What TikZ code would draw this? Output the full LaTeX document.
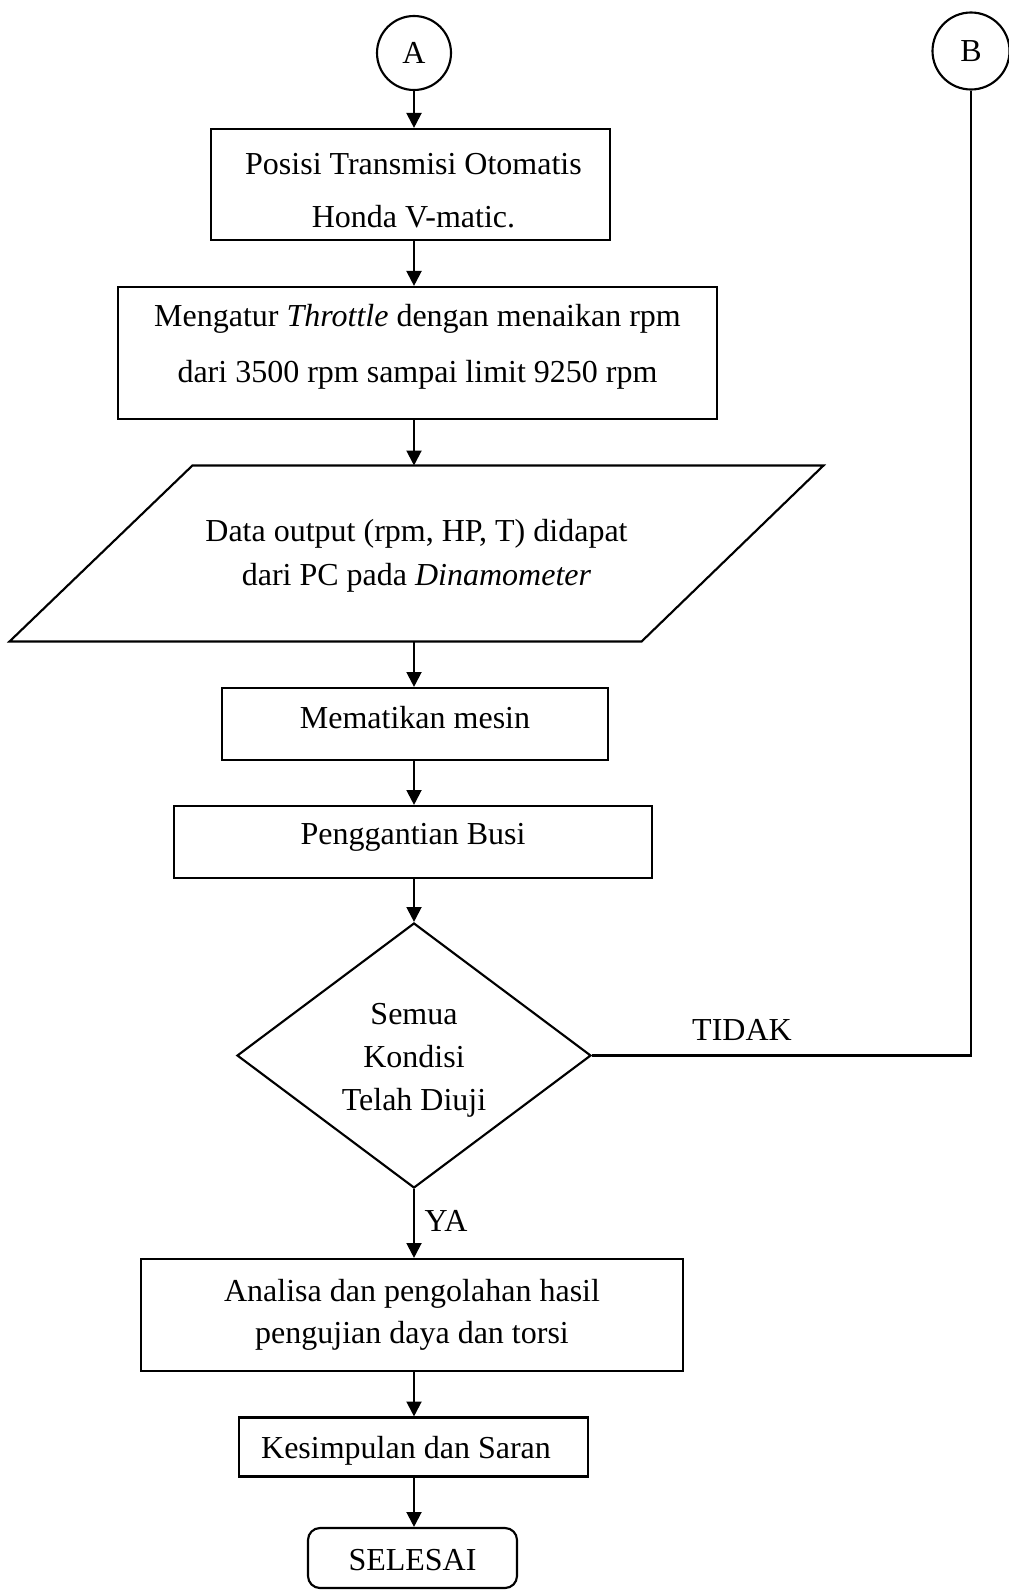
\documentclass[tikz,border=0pt]{standalone}
\usepackage{fontspec}
\setmainfont{Liberation Serif}
\usetikzlibrary{arrows.meta,shapes.geometric,calc}
\begin{document}
\begin{tikzpicture}[x=0.375pt,y=-0.375pt,
  every node/.style={font=\fontsize{12}{16}\selectfont, inner sep=0pt, align=center},
  sz/.style 2 args={minimum width=#1*0.375pt, minimum height=#2*0.375pt},
  stepbox/.style={draw, line width=0.8pt, rectangle},
  conn/.style={draw, line width=0.8pt, circle},
  arr/.style={line width=0.8pt, -{Triangle[length=5.6pt,width=5.6pt]}},
  line/.style={line width=0.8pt}]
\useasboundingbox (0,0) rectangle (1008,1590);

% connectors at the top
\node[conn, minimum size=74*0.375pt] (A) at (414,53) {A};
\node[conn, minimum size=77*0.375pt] (B) at (971,51) {B};

% process steps (frames and their texts)
\node[stepbox, sz={399}{111}] (b1) at (410.5,184.5) {};
\node[font=\fontsize{12}{20}\selectfont] (t1) at (413.5,190.5)
  {Posisi Transmisi Otomatis\\Honda V-matic.};
\node[stepbox, sz={599}{132}] (b2) at (417.5,353) {};
\node[font=\fontsize{12}{21}\selectfont] (t2) at (417.5,347)
  {Mengatur \textit{Throttle} dengan menaikan rpm\\dari 3500 rpm sampai limit 9250 rpm};

% input/output parallelogram
\node[sz={813}{175}] (io) at (416.5,553.5) {};
\node[font=\fontsize{12}{16.4}\selectfont] (tio) at (416.5,555.5)
  {Data output (rpm, HP, T) didapat\\dari PC pada \textit{Dinamometer}};
\draw[line] ($(io.north west)+(183,0)$) -- (io.north east)
  -- ($(io.south east)+(-182,0)$) -- (io.south west) -- cycle;

\node[stepbox, sz={386}{72}] (b3) at (415,724) {};
\node (t3) at (415,718) {Mematikan mesin};
\node[stepbox, sz={478}{72}] (b4) at (413,842) {};
\node (t4) at (413,837) {Penggantian Busi};

% decision
\node[draw, line width=0.8pt, diamond, sz={354}{265}] (dec) at (414,1055.5) {};
\node[font=\fontsize{12}{16.2}\selectfont] (tdec) at (414,1060.5)
  {Semua\\Kondisi\\Telah Diuji};

\node[stepbox, sz={542}{112}] (b5) at (412,1315) {};
\node[font=\fontsize{12}{15.7}\selectfont] (t5) at (412,1315)
  {Analisa dan pengolahan hasil\\pengujian daya dan torsi};
\node[stepbox, sz={349}{59}] (b6) at (413.5,1447) {};
\node (t6) at (406,1451) {Kesimpulan dan Saran};
\node[draw, line width=0.8pt, rounded corners=4.5pt, sz={209}{60}] (fin) at (412.5,1558) {};
\node (tfin) at (412.5,1560) {SELESAI};

% labels
\node (no) at (742,1030) {TIDAK};
\node (yes) at (446,1221) {YA};

% flow
\draw[arr] (A.south) -- (b1.north -| A);
\draw[arr] (b1.south -| A) -- (b2.north -| A);
\draw[arr] (b2.south -| A) -- (io.north -| A);
\draw[arr] (io.south -| A) -- (b3.north -| A);
\draw[arr] (b3.south -| A) -- (b4.north -| A);
\draw[arr] (b4.south -| A) -- (dec.north);
\draw[arr] (dec.south) -- (b5.north -| dec);
\draw[arr] (b5.south -| A) -- (b6.north -| A);
\draw[arr] (b6.south -| A) -- (fin.north -| A);
\draw[line] (dec.east) -- (dec.east -| B.south) -- (B.south);
\end{tikzpicture}
\end{document}
